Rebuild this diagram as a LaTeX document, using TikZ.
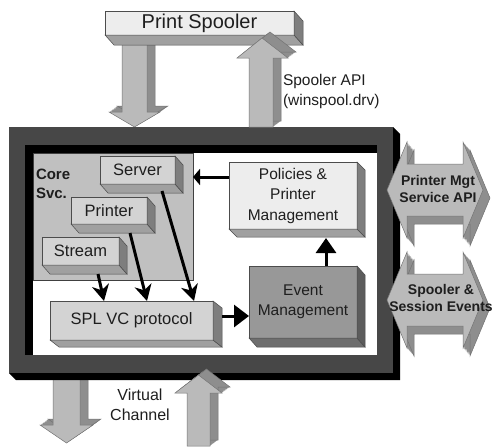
\documentclass[tikz,border=0pt]{standalone}
\usepackage{fontspec}
\setmainfont{Liberation Sans}
\usetikzlibrary{arrows.meta,calc}

\definecolor{framegray}{HTML}{474747}
\definecolor{coregray}{HTML}{C0C0C0}
\definecolor{boxlight}{HTML}{D3D3D3}
\definecolor{faceA}{HTML}{A0A0A0}
\definecolor{faceB}{HTML}{7E7E7E}
\definecolor{paleface}{HTML}{EDEDED}
\definecolor{eventfront}{HTML}{989898}
\definecolor{eventA}{HTML}{6E6E6E}
\definecolor{eventB}{HTML}{5C5C5C}
\definecolor{arrfront}{HTML}{BABABA}
\definecolor{arrside}{HTML}{8E8E8E}
\definecolor{txt}{HTML}{1E1E1E}

\newcommand\mkfaces[5]{%
  \filldraw[fill=#4,draw=black!70,line width=0.5pt] (#1.south west) -- (#1.south east) -- ($(#1.south east)+(#2,#3)$) -- ($(#1.south west)+(#2,#3)$) -- cycle;
  \filldraw[fill=#5,draw=black!70,line width=0.5pt] (#1.north east) -- ($(#1.north east)+(#2,#3)$) -- ($(#1.south east)+(#2,#3)$) -- (#1.south east) -- cycle;
}
\newcommand\blockarrow[3]{%
  \foreach \k in {1,...,10}{\fill[arrside,shift={({#2*\k/10},{#3*\k/10})}] #1;}
  \draw[black!55,line width=0.5pt,shift={(#2,#3)}] #1;
  \filldraw[fill=arrfront,draw=black!55,line width=0.5pt] #1;
}

\begin{document}
\begin{tikzpicture}[x=1pt,y=-1pt,
  every node/.style={inner sep=0pt,outer sep=0pt,text=txt},
  box/.style={draw=black!70,line width=0.5pt,rectangle,align=center,
    font=\fontsize{16.5}{20}\selectfont},
  conn/.style={line width=3pt,draw=black},
  lbl/.style={font=\fontsize{16}{20}\selectfont},
  arrlbl/.style={font=\fontsize{14}{17}\selectfont\bfseries,align=center},
]
\useasboundingbox (0,0) rectangle (492,447);

% arrows drawn beneath the frame / spooler
\blockarrow{(53,368) -- (80,368) -- (80,425) -- (93,425) -- (66.5,443) -- (40,425) -- (53,425) -- cycle}{8}{-6}
\blockarrow{(122,40) -- (147,40) -- (147,112) -- (160,112) -- (134.5,127) -- (109,112) -- (122,112) -- cycle}{8}{-6}

% frame
\fill[black] (9,127) -- (393,127) -- (400,134) -- (400,380) -- (16,380) -- (9,373) -- cycle;
\fill[framegray] (9,127) rectangle (393,373);
\fill[black] (25,145) rectangle (377,355);
\fill[white] (33,153) rectangle (377,355);

% core services area
\node[draw=black!75,line width=0.8pt,fill=coregray,minimum width=160pt,minimum height=127pt,anchor=north west] (core) at (33,153) {};
\node[font=\fontsize{15}{19}\selectfont\bfseries,align=left,anchor=west] (corelbl) at (36,184) {Core\\Svc.};

% boxes
\node[box,fill=boxlight,minimum width=75pt,minimum height=28pt] (server) at (137.5,170) {Server};
\mkfaces{server}{8}{9}{faceA}{faceB}
\node[box,fill=boxlight,minimum width=76pt,minimum height=27pt] (printer) at (109,210.5) {Printer};
\mkfaces{printer}{8}{9}{faceA}{faceB}
\node[box,fill=boxlight,minimum width=77pt,minimum height=28pt] (stream) at (80.5,251) {Stream};
\mkfaces{stream}{8}{9}{faceA}{faceB}

\node[box,fill=paleface,minimum width=128pt,minimum height=67pt,font=\fontsize{15.5}{20.5}\selectfont] (pol) at (293,195.5) {Policies \&\\Printer\\Management};
\mkfaces{pol}{8}{8}{faceA}{faceB}

\node[box,fill=eventfront,minimum width=108pt,minimum height=72pt,font=\fontsize{15.5}{20.5}\selectfont] (event) at (303,302) {Event\\Management};
\mkfaces{event}{8}{9}{eventA}{eventB}

\node[box,fill=boxlight,minimum width=163pt,minimum height=39pt] (spl) at (131.5,320.5) {SPL VC protocol};
\mkfaces{spl}{9}{7}{faceA}{faceB}

% print spooler
\node[box,fill=paleface,minimum width=189pt,minimum height=24pt,font=\fontsize{20}{24}\selectfont] (spooler) at (199.5,23) {Print Spooler};
\mkfaces{spooler}{9}{10}{faceA}{faceB}

% arrows drawn above
\blockarrow{(249,127) -- (249,58) -- (237,58) -- (262,38) -- (288,58) -- (273,58) -- (273,127) -- cycle}{8}{-6}
\blockarrow{(187,446) -- (187,393) -- (175,393) -- (198.5,375) -- (222,393) -- (210,393) -- (210,446) -- cycle}{8}{-6}

% right double arrows
\blockarrow{(387,190) -- (407,142) -- (407,164) -- (463,164) -- (463,142) -- (483,190) -- (463,238) -- (463,216) -- (407,216) -- (407,238) -- cycle}{7}{8}
\blockarrow{(387,300) -- (407,252) -- (407,274) -- (463,274) -- (463,252) -- (483,300) -- (463,348) -- (463,326) -- (407,326) -- (407,348) -- cycle}{7}{8}
\node[arrlbl] (pmgt) at (438,189) {Printer Mgt\\Service API};
\node[arrlbl] (sevt) at (441,298) {Spooler \&\\Session Events};

% connectors
\coordinate (srvout) at ($(server.south west)+(62,7)$);
\coordinate (prnout) at ($(printer.south west)+(59,9)$);
\coordinate (strout) at ($(stream.south west)+(56,9)$);
\draw[conn,-{Stealth[length=16pt,width=17pt,inset=5pt]}] (srvout) -- ($(spl.north west)+(144,0)$);
\draw[conn,-{Stealth[length=16pt,width=17pt,inset=5pt]}] (prnout) -- ($(spl.north west)+(97,0)$);
\draw[conn,-{Stealth[length=16pt,width=17pt,inset=5pt]}] (strout) -- ($(spl.north west)+(54,0)$);

\coordinate (splout) at ($(spl.east)+(9,-4.5)$);
\draw[conn,-{Triangle[length=15pt,width=22pt]}] (splout) -- (splout -| event.west);

\coordinate (evout) at ($(event.north)+(23,0)$);
\draw[conn,-{Triangle[length=15pt,width=20pt]}] (evout) -- ($(evout |- pol.south)+(0,9)$);

\coordinate (polin) at ($(pol.north west)+(0,15)$);
\draw[conn,-{Triangle[length=7pt,width=16pt]}] (polin) -- (polin -| core.east);

% labels
\node[lbl,font=\fontsize{15.5}{20}\selectfont,align=left,anchor=west] (apilbl) at (283,91) {Spooler API\\(winspool.drv)};
\node[lbl,align=center] (vclbl) at (140,405) {Virtual\\Channel};
\end{tikzpicture}
\end{document}
